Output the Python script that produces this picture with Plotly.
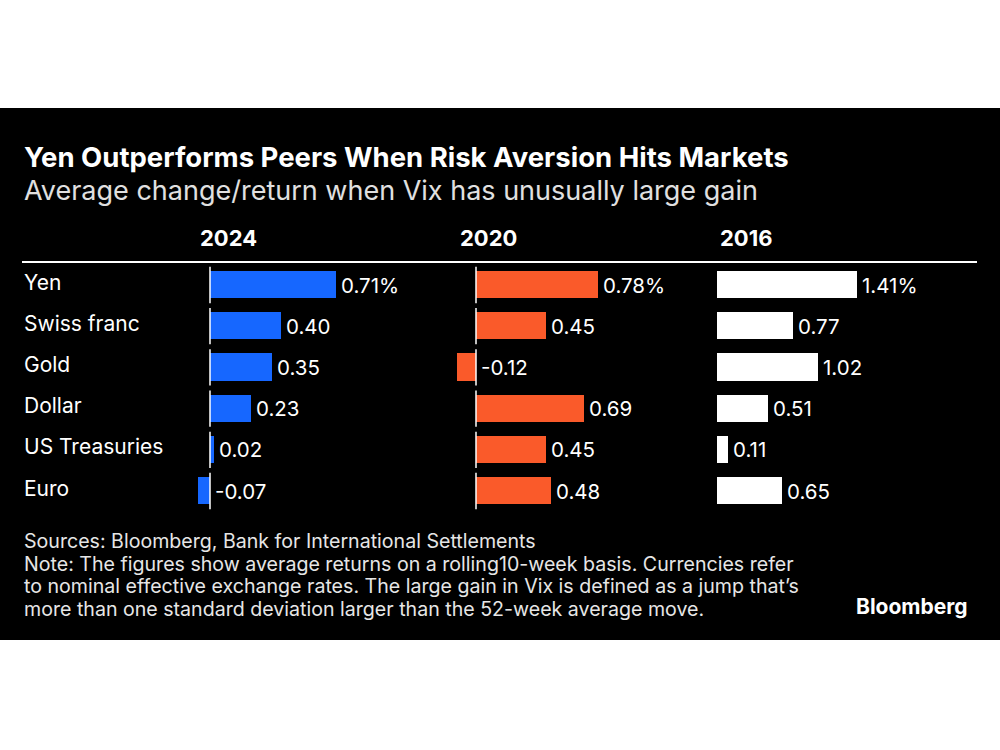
import plotly.graph_objects as go

categories = ["Yen", "Swiss franc", "Gold", "Dollar", "US Treasuries", "Euro"]
years = ["2024", "2020", "2016"]
values_2024 = [0.71, 0.40, 0.35, 0.23, 0.02, -0.07]
values_2020 = [0.78, 0.45, -0.12, 0.69, 0.45, 0.48]
values_2016 = [1.41, 0.77, 1.02, 0.51, 0.11, 0.65]
series = [values_2024, values_2020, values_2016]
colors = ["#1667ff", "#fa5a2a", "#ffffff"]

W, H = 1000, 750
def px(p):
    return p / W
def py(p):
    return 1 - p / H

# panel layout (pixels)
domains = [(190, 440), (440, 700), (700, 1000)]
zeros = [210, 476, 717.3]
scales = [177.5, 156, 98.8]
header_x = [198, 458, 718]

fig = go.Figure()
FONT = "Inter, Liberation Sans, Arial, sans-serif"

ydom = [py(511.6), py(264.4)]
idx = list(range(len(categories)))

annotations = []
shapes = []

# black panel
shapes.append(dict(type="rect", xref="paper", yref="paper", x0=0, x1=1, y0=py(640), y1=py(108),
                   fillcolor="#000000", line=dict(width=0), layer="below"))
# header rule
shapes.append(dict(type="line", xref="paper", yref="paper", x0=px(22), x1=px(977), y0=py(262), y1=py(262),
                   line=dict(color="#ffffff", width=2)))

for k, (vals, col) in enumerate(zip(series, colors)):
    n = k + 1
    xa = "x" if n == 1 else f"x{n}"
    ya = "y" if n == 1 else f"y{n}"
    d0, d1 = domains[k]
    start = -(zeros[k] - d0) / scales[k]
    end = start + (d1 - d0) / scales[k]
    fig.add_trace(go.Bar(x=vals, y=idx, orientation="h", marker=dict(color=col, line=dict(width=0)),
                         width=0.66, xaxis=xa, yaxis=ya, showlegend=False, hoverinfo="skip"))
    axname = "xaxis" if n == 1 else f"xaxis{n}"
    yname = "yaxis" if n == 1 else f"yaxis{n}"
    fig.update_layout(**{
        axname: dict(domain=[px(d0), px(d1)], range=[start, end], visible=False, anchor=ya, fixedrange=True),
        yname: dict(domain=ydom, range=[5.5, -0.5], visible=False, anchor=xa, fixedrange=True),
    })
    # zero line segments per row
    if k < 2:
        for i in idx:
            shapes.append(dict(type="line", xref=xa, yref=ya, x0=0, x1=0, y0=i - 0.44, y1=i + 0.44,
                               line=dict(color="#ffffff", width=1.5)))
    # value labels
    for i, v in enumerate(vals):
        txt = f"{v:.2f}" + ("%" if i == 0 else "")
        annotations.append(dict(x=max(v, 0), y=i, xref=xa, yref=ya, text=txt, showarrow=False,
                                xanchor="left", yanchor="middle", xshift=3, yshift=0,
                                font=dict(family=FONT, size=20.5, color="#ffffff")))
    # column header
    annotations.append(dict(x=px(header_x[k]), y=py(238), xref="paper", yref="paper", text=f"<b>{years[k]}</b>",
                            showarrow=False, xanchor="left", yanchor="middle",
                            font=dict(family=FONT, size=22, color="#ffffff")))

# row labels
for i, c in enumerate(categories):
    annotations.append(dict(x=px(22), y=i, xref="paper", yref="y", text=c, showarrow=False,
                            xanchor="left", yanchor="middle", yshift=3,
                            font=dict(family=FONT, size=21, color="#ffffff")))

# title & subtitle
annotations.append(dict(x=px(22), y=py(157), xref="paper", yref="paper",
                        text="<b>Yen Outperforms Peers When Risk Aversion Hits Markets</b>",
                        showarrow=False, xanchor="left", yanchor="middle",
                        font=dict(family=FONT, size=27.5, color="#ffffff")))
annotations.append(dict(x=px(22), y=py(190), xref="paper", yref="paper",
                        text="Average change/return when Vix has unusually large gain",
                        showarrow=False, xanchor="left", yanchor="middle",
                        font=dict(family=FONT, size=27, color="#e0e0e0")))

footer = [
    "Sources: Bloomberg, Bank for International Settlements",
    "Note: The figures show average returns on a rolling10-week basis. Currencies refer",
    "to nominal effective exchange rates. The large gain in Vix is defined as a jump that’s",
    "more than one standard deviation larger than the 52-week average move.",
]
for j, line in enumerate(footer):
    annotations.append(dict(x=px(22), y=py(541 + j * 22.7), xref="paper", yref="paper", text=line,
                            showarrow=False, xanchor="left", yanchor="middle",
                            font=dict(family=FONT, size=19.6, color="#e6e6e6")))
annotations.append(dict(x=px(970), y=py(606), xref="paper", yref="paper", text="<b>Bloomberg</b>",
                        showarrow=False, xanchor="right", yanchor="middle",
                        font=dict(family=FONT, size=21, color="#ffffff")))

fig.update_layout(width=W, height=H, margin=dict(l=0, r=0, t=0, b=0),
                  paper_bgcolor="#ffffff", plot_bgcolor="rgba(0,0,0,0)",
                  bargap=0, annotations=annotations, shapes=shapes, showlegend=False)

fig.write_html("out.html", config={"displayModeBar": False},
               post_script="document.body.style.margin='0';document.body.style.overflow='hidden';")
